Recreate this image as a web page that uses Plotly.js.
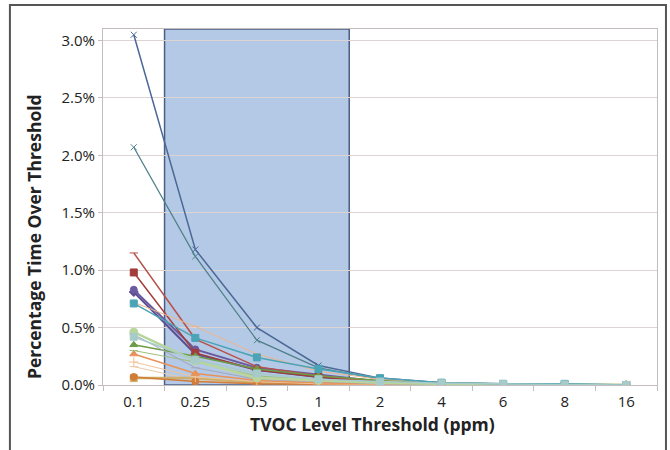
<!DOCTYPE html>
<html>
<head>
<meta charset="utf-8">
<script src="https://cdn.plot.ly/plotly-3.0.1.min.js"></script>
<style>
html,body{margin:0;padding:0;background:#fff;}
#chart{width:670px;height:450px;}
</style>
</head>
<body>
<div id="chart"></div>
<script>
// Category labels of the x axis (ppm thresholds)
const thresholds = ['0.1','0.25','0.5','1','2','4','6','8','16'];

// Percentage of time over threshold, one array per sensor/room (values in %)
const s01 = [3.05, 1.18, 0.50, 0.17, 0.06, 0.02, 0.01, 0.005, 0.0];
const s02 = [2.07, 1.12, 0.39, 0.15, 0.05, 0.02, 0.01, 0.005, 0.0];
const s03 = [1.15, 0.40, 0.16, 0.08, 0.03, 0.01, 0.005, 0.0, 0.0];
const s04 = [0.98, 0.28, 0.13, 0.07, 0.03, 0.01, 0.005, 0.0, 0.0];
const s05 = [0.83, 0.31, 0.15, 0.09, 0.03, 0.01, 0.005, 0.0, 0.0];
const s06 = [0.81, 0.27, 0.13, 0.07, 0.02, 0.01, 0.0, 0.0, 0.0];
const s07 = [0.71, 0.41, 0.24, 0.14, 0.06, 0.02, 0.01, 0.01, 0.0];
const s08 = [0.72, 0.51, 0.27, 0.12, 0.05, 0.02, 0.01, 0.005, 0.0];
const s09 = [0.46, 0.21, 0.06, 0.04, 0.02, 0.01, 0.005, 0.0, 0.0];
const s10 = [0.35, 0.25, 0.14, 0.08, 0.04, 0.01, 0.005, 0.0, 0.0];
const s11 = [0.27, 0.10, 0.04, 0.02, 0.01, 0.005, 0.0, 0.0, 0.0];
const s12 = [0.20, 0.07, 0.03, 0.01, 0.005, 0.0, 0.0, 0.0, 0.0];
const s13 = [0.07, 0.03, 0.01, 0.005, 0.0, 0.0, 0.0, 0.0, 0.0];
const s14 = [0.06, 0.06, 0.02, 0.01, 0.005, 0.0, 0.0, 0.0, 0.0];
const s15 = [0.44, 0.15, 0.05, 0.03, 0.01, 0.005, 0.0, 0.0, 0.0];
const s16 = [0.42, 0.22, 0.10, 0.05, 0.03, 0.015, 0.01, 0.005, 0.0];
const s17 = [0.30, 0.20, 0.08, 0.04, 0.02, 0.01, 0.005, 0.0, 0.0];
const s18 = [0.16, 0.04, 0.02, 0.01, 0.0, 0.0, 0.0, 0.0, 0.0];

// Highlighted band (category index span and height in %)
const bandStart = 0.5, bandEnd = 3.5, bandTop = 3.1;

const xTitle = 'TVOC Level Threshold (ppm)';
const yTitle = 'Percentage Time Over Threshold';

const series = [
  {y:s06, color:'#5c4f90', sym:'diamond', size:7, w:2},
  {y:s05, color:'#6c5aa0', sym:'circle', size:7, w:2},
  {y:s04, color:'#a33d39', sym:'square', size:7, w:1.5},
  {y:s03, color:'#b6524b', sym:'line-ew', size:6, w:1.5},
  {y:s02, color:'#50808b', sym:'x-thin', size:6, w:1.3},
  {y:s01, color:'#4b6897', sym:'x-thin', size:6, w:1.5},
  {y:s18, color:'#e9c9a8', sym:'line-ew', size:6, w:1},
  {y:s14, color:'#cdae6a', sym:'square', size:7, w:2.5},
  {y:s13, color:'#d17c38', sym:'circle', size:7, w:1.5},
  {y:s12, color:'#f1c39b', sym:'cross-thin', size:7, w:1},
  {y:s11, color:'#e8925a', sym:'triangle-up', size:7, w:1.5},
  {y:s17, color:'#9dbf7a', sym:'line-ew', size:6, w:1},
  {y:s10, color:'#6f9b46', sym:'triangle-up', size:7, w:1.5},
  {y:s15, color:'#a2a7b8', sym:'line-ew', size:6, w:1},
  {y:s09, color:'#b8d59c', sym:'circle', size:8, w:2.5},
  {y:s08, color:'#eeb58c', sym:'line-ew', size:6, w:1},
  {y:s07, color:'#4ba4b6', sym:'square', size:7, w:1.5},
  {y:s16, color:'#a6cbc9', sym:'square', size:7, w:1.5}
];

const traces = series.map(s => ({
  type:'scatter', mode:'lines+markers',
  x: thresholds, y: s.y,
  line:{color:s.color, width:s.w},
  marker:{color:s.color, symbol:s.sym, size:s.size, line:{color:s.color, width:1}},
  showlegend:false, hoverinfo:'skip'
}));

const fontFam = '"Open Sans", Lato, sans-serif';

const layout = {
  width:670, height:450,
  margin:{l:103, r:13, t:29, b:65},
  paper_bgcolor:'#ffffff', plot_bgcolor:'#ffffff',
  font:{family:fontFam, size:15, color:'#222'},
  showlegend:false,
  xaxis:{
    type:'category', categoryorder:'array', categoryarray:thresholds,
    range:[-0.5, 8.5],
    showgrid:false, zeroline:false,
    showline:true, mirror:true, linecolor:'#c4bdbd', linewidth:1,
    ticks:'outside', tickson:'boundaries', ticklen:5, tickcolor:'#c4bdbd',
    ticklabelstandoff:3,
    tickfont:{family:fontFam, size:15, color:'#222'}
  },
  yaxis:{
    range:[0, 3.1], dtick:0.5, tick0:0,
    tickformat:'.1f', ticksuffix:'%',
    showgrid:true, gridcolor:'#dcd3d3', gridwidth:1,
    zeroline:false,
    showline:true, mirror:true, linecolor:'#c4bdbd', linewidth:1,
    ticks:'outside', ticklen:4, tickcolor:'#c4bdbd',
    tickfont:{family:fontFam, size:15, color:'#222'}
  },
  annotations:[
    {text:'<b>'+xTitle+'</b>', xref:'paper', yref:'paper', x:0.487, y:-0.11,
     xanchor:'center', yanchor:'middle', showarrow:false,
     font:{family:fontFam, size:17.5, color:'#222'}},
    {text:'<b>'+yTitle+'</b>', xref:'paper', yref:'paper', x:-0.1245, y:0.4157,
     xanchor:'center', yanchor:'middle', showarrow:false, textangle:-90,
     font:{family:fontFam, size:17.5, color:'#222'}}
  ],
  shapes:[
    {type:'rect', xref:'x', yref:'y', x0:bandStart, x1:bandEnd, y0:0, y1:bandTop,
     fillcolor:'#b4c9e5', line:{color:'#4a5d84', width:1.5}, layer:'below'},
    {type:'rect', xref:'paper', yref:'paper', x0:-0.168, x1:1.0162, y0:-0.2, y1:1.0674,
     fillcolor:'rgba(0,0,0,0)', line:{color:'#555555', width:2}, layer:'above'}
  ]
};

Plotly.newPlot('chart', traces, layout, {displayModeBar:false, staticPlot:true});
</script>
</body>
</html>
